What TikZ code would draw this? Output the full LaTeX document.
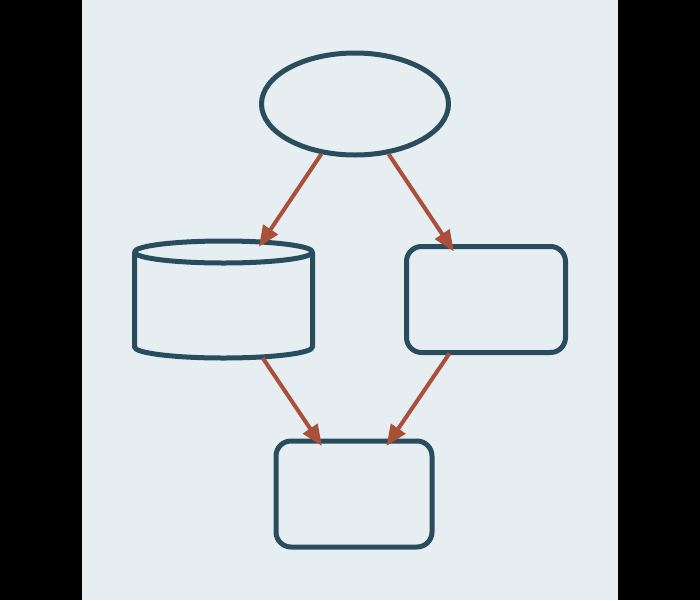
\documentclass[tikz,border=0pt]{standalone}
\usetikzlibrary{shapes.geometric,arrows.meta}
\definecolor{strokec}{HTML}{2A4D5E}
\definecolor{arrowc}{HTML}{A8503A}
\definecolor{bgc}{HTML}{E6EEF2}
\begin{document}
\begin{tikzpicture}[x=1pt,y=-1pt,line join=round,
  shapebox/.style={draw=strokec,line width=5pt,fill=bgc},
  rbox/.style={shapebox,rectangle,rounded corners=15pt,minimum height=106pt,inner sep=0pt},
  conn/.style={draw=arrowc,line width=4pt,-{Triangle[length=21pt,width=17pt]}}]
\useasboundingbox (0,0) rectangle (700,600);
\fill[black] (0,0) rectangle (700,600);
\fill[bgc] (82,0) rectangle (617.5,600);
% nodes
\node[shapebox,ellipse,minimum width=187pt,minimum height=102pt,inner sep=0pt] (top) at (355,104) {};
\node[rbox,minimum width=159pt] (right) at (486,299.5) {};
\node[rbox,minimum width=156pt] (bottom) at (354,494) {};
\node[rectangle,minimum width=178pt,minimum height=117pt,inner sep=0pt,outer sep=0pt] (cyl) at (223.5,299.5) {};
% cylinder drawing
\draw[strokec,line width=5pt,fill=bgc]
  (134.5,252) -- (134.5,347) arc[start angle=180,end angle=0,x radius=89,y radius=11]
  -- (312.5,252) arc[start angle=0,end angle=180,x radius=89,y radius=11] -- cycle;
\draw[strokec,line width=5pt] (134.5,252) arc[start angle=180,end angle=360,x radius=89,y radius=11];
% connectors
\draw[conn,shorten >=-7pt] (top) -- (cyl);
\draw[conn,shorten >=-9pt] (top) -- (right);
\draw[conn,shorten >=-9pt] (cyl) -- (bottom);
\draw[conn,shorten <=-2pt,shorten >=-9pt] (right) -- (bottom);
\end{tikzpicture}
\end{document}
